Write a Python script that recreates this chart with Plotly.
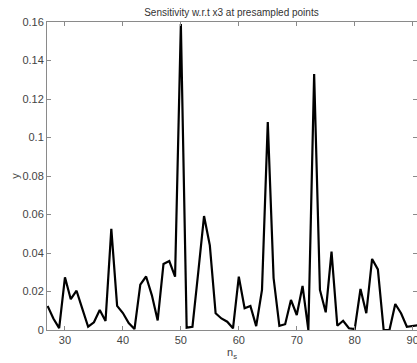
import plotly.graph_objects as go

n_s = list(range(27, 92))
sens = [0.0125, 0.006, 0.001, 0.0274, 0.016, 0.0204, 0.011, 0.0017, 0.004, 0.0104,
        0.0047, 0.0525, 0.0125, 0.0088, 0.0036, 0.0005, 0.0236, 0.0278, 0.018, 0.005,
        0.0343, 0.0358, 0.0277, 0.159, 0.0012, 0.0017, 0.030, 0.0592, 0.044, 0.0087,
        0.006, 0.0043, 0.0009, 0.0277, 0.0113, 0.0125, 0.002, 0.0208, 0.108, 0.027,
        0.0022, 0.003, 0.0156, 0.0078, 0.0229, 0.0, 0.133, 0.0208, 0.0092, 0.0407,
        0.0022, 0.0048, 0.0009, 0.0005, 0.0213, 0.0087, 0.0369, 0.0315, 0.0, 0.0,
        0.0135, 0.0087, 0.0017, 0.0022, 0.0025]
y_ticks = [0, 0.02, 0.04, 0.06, 0.08, 0.1, 0.12, 0.14, 0.16]
y_tick_text = ["0", "0.02", "0.04", "0.06", "0.08", "0.1", "0.12", "0.14", "0.16"]
x_ticks = [30, 40, 50, 60, 70, 80, 90]

fig = go.Figure(go.Scatter(x=n_s, y=sens, mode="lines",
                           line=dict(color="black", width=2.2)))

axis_common = dict(showline=True, linecolor="#8a8a8a", linewidth=1, mirror="ticks",
                   ticks="inside", ticklen=4, tickcolor="#8a8a8a", showgrid=False,
                   zeroline=False, ticklabeloverflow="allow",
                   tickfont=dict(family="Liberation Sans, Arial", size=11, color="#444"))

fig.update_layout(
    width=417, height=363,
    margin=dict(l=47, r=0, t=22, b=33),
    plot_bgcolor="white", paper_bgcolor="white",
    showlegend=False,
    title=dict(text="Sensitivity w.r.t x3 at presampled points", x=0.555, xanchor="center",
               y=0.975, yanchor="top",
               font=dict(family="Liberation Sans, Arial", size=10, color="#333")),
    xaxis=dict(range=[26.9, 90.75], tickvals=x_ticks, automargin=False,
               title=dict(text="n<sub>s</sub>", standoff=0,
                          font=dict(family="Liberation Sans, Arial", size=11, color="#444")),
               **axis_common),
    yaxis=dict(range=[0, 0.16], tickvals=y_ticks, ticktext=y_tick_text, automargin=False,
               title=dict(text="y", standoff=0,
                          font=dict(family="Liberation Sans, Arial", size=11, color="#444")),
               **axis_common),
)

fig.write_html("out.html")
